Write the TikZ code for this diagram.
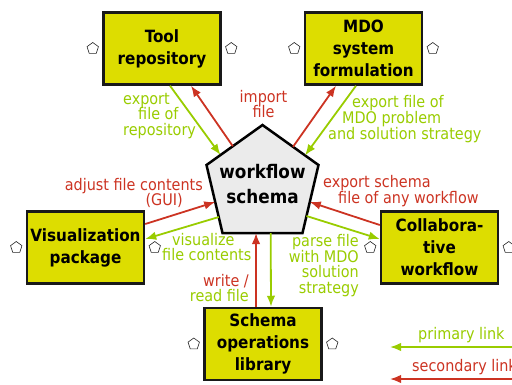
\documentclass[tikz,border=0pt]{standalone}
\usepackage{fontspec}
\setmainfont{DejaVu Sans Condensed}
\usetikzlibrary{arrows.meta,calc,shapes.geometric}
\definecolor{boxyellow}{RGB}{221,221,0}
\definecolor{lgreen}{RGB}{153,204,0}
\definecolor{lred}{RGB}{204,51,34}
\definecolor{pentgray}{RGB}{235,235,235}
\begin{document}
\begin{tikzpicture}[x=1pt,y=-1pt,
  box/.style={draw=black!90, line width=2.5pt, fill=boxyellow, minimum width=117pt, minimum height=72pt,
    align=center, inner sep=0pt, font=\fontsize{16.9}{22}\selectfont\bfseries},
  mini/.style={draw=black!85, fill=white, line width=0.6pt, regular polygon, regular polygon sides=5,
    minimum size=12pt, inner sep=0pt},
  lab/.style={inner sep=0pt, font=\fontsize{16}{15.8}\selectfont},
  garr/.style={draw=lgreen, line width=1.8pt, -{Latex[length=11pt,width=8.5pt]}},
  rarr/.style={draw=lred, line width=1.8pt, -{Latex[length=11pt,width=8.5pt]}}]
\useasboundingbox (0,0) rectangle (512,384);
\clip (0,0) rectangle (512,384);
% central pentagon
\coordinate (pA) at (262.5,125);
\coordinate (pB) at (206.5,165);
\coordinate (pC) at (222.5,233);
\coordinate (pD) at (302.5,233);
\coordinate (pE) at (318.5,165);
\draw[line width=2.5pt, fill=pentgray, line join=miter] (pA) -- (pB) -- (pC) -- (pD) -- (pE) -- cycle;
\node[font=\fontsize{18.7}{25}\selectfont\bfseries, align=center] (ws) at (262.5,184.5) {workflow\\schema};
% boxes
\node[box] (tool) at (162,48.5) {Tool\\repository};
\node[box] (mdo) at (363.5,48.5) {MDO\\system\\formulation};
\node[box] (vis) at (85.5,247.5) {Visualization\\package};
\node[box] (col) at (439.5,247.5) {Collabora-\\tive\\workflow};
\node[box] (sch) at (263,344) {Schema\\operations\\library};
% small pentagons
\node[mini] (t1) at ([xshift=-9.5pt]tool.west) {};
\node[mini] (t2) at ([xshift=9.5pt]tool.east) {};
\node[mini] (m1) at ([xshift=-9.5pt]mdo.west) {};
\node[mini] (m2) at ([xshift=9.5pt]mdo.east) {};
\node[mini] (v1) at ([xshift=-9.5pt]vis.west) {};
\node[mini] (v2) at ([xshift=9.5pt]vis.east) {};
\node[mini] (c1) at ([xshift=-9.5pt]col.west) {};
\node[mini] (c2) at ([xshift=9.5pt]col.east) {};
\node[mini] (s1) at ([xshift=-9.5pt]sch.west) {};
\node[mini] (s2) at ([xshift=9.5pt]sch.east) {};
% connectors
\draw[garr] ([xshift=8pt]tool.south) -- ($(pA)!0.75!(pB)$);
\draw[rarr] ($(pA)!0.53!(pB)$) -- ([xshift=29pt]tool.south);
\draw[rarr] ($(pA)!0.545!(pE)$) -- ([xshift=-27.5pt]mdo.south);
\draw[garr] ([xshift=-7.5pt]mdo.south) -- ($(pA)!0.76!(pE)$);
\draw[rarr] ([yshift=23.5pt]vis.east) -- ($(pB)!0.544!(pC)$);
\draw[garr] ($(pB)!0.765!(pC)$) -- ([yshift=8.5pt]vis.east);
\draw[rarr] ([yshift=22.5pt]col.west) -- ($(pE)!0.544!(pD)$);
\draw[garr] ($(pE)!0.75!(pD)$) -- ([yshift=8.5pt]col.west);
\draw[rarr] ([xshift=-7pt]sch.north) -- ($(pC)!0.419!(pD)$);
\draw[garr] ($(pC)!0.6025!(pD)$) -- ([xshift=8pt]sch.north);
% labels
\node[lab, text=lgreen, anchor=west, align=left] (l1) at (123,116) {export\\\hspace*{15pt}file of\\repository};
\node[lab, text=lred, align=center] (l2) at (263.5,104) {import\\file};
\node[lab, text=lgreen, anchor=west, align=left] (l3) at (328,119) {\hspace*{24pt}export file of\\\hspace*{14pt}MDO problem\\and solution strategy};
\node[lab, text=lred, anchor=east, align=right] (l4) at (203,193) {adjust file contents\\(GUI)\hspace*{20pt}};
\node[lab, text=lred, anchor=west, align=left] (l5) at (323,191) {export schema\\\hspace*{15pt}file of any workflow};
\node[lab, text=lgreen, anchor=west, align=left] (l6) at (162,247) {\hspace*{10pt}visualize\\file contents};
\node[lab, anchor=east, align=right] (l7) at (249,288) {\textcolor{lred}{write /}\\\textcolor{lgreen}{read file}};
\node[lab, text=lgreen, anchor=east, align=right] (l8) at (359,265.5) {parse file\\with MDO\\solution\\strategy};
% legend
\coordinate (lg1s) at (530,347);
\coordinate (lg1e) at (390,347);
\coordinate (lg2s) at (530,379);
\coordinate (lg2e) at (390,379);
\draw[garr] (lg1s) -- (lg1e);
\draw[rarr] (lg2s) -- (lg2e);
\node[lab, text=lgreen, anchor=west] (lp) at (418,335) {primary link};
\node[lab, text=lred, anchor=west] (ls) at (412,367) {secondary link};
\end{tikzpicture}
\end{document}
